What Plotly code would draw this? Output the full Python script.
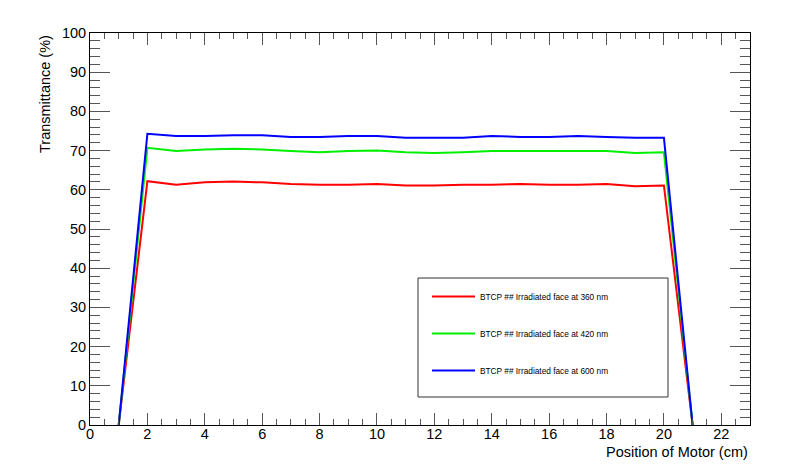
import plotly.graph_objects as go

positions = list(range(1, 22))
red_360 = [0, 62.2, 61.3, 61.9, 62.1, 61.9, 61.5, 61.3, 61.3, 61.5, 61.1,
           61.1, 61.3, 61.3, 61.5, 61.3, 61.3, 61.5, 60.9, 61.1, 0]
green_420 = [0, 70.7, 69.9, 70.3, 70.5, 70.3, 69.9, 69.6, 69.9, 70.0, 69.6,
             69.4, 69.6, 69.9, 69.9, 69.9, 69.9, 69.9, 69.4, 69.6, 0]
blue_600 = [0, 74.3, 73.7, 73.7, 73.9, 73.9, 73.5, 73.5, 73.7, 73.7, 73.3,
            73.3, 73.3, 73.7, 73.5, 73.5, 73.7, 73.5, 73.3, 73.3, 0]
series_names = ["BTCP ## Irradiated face at 360 nm",
                "BTCP ## Irradiated face at 420 nm",
                "BTCP ## Irradiated face at 600 nm"]
series_colors = ["#ff0000", "#00f000", "#0000ff"]

FONT = "Liberation Sans, Arial, Helvetica, sans-serif"

fig = go.Figure()
for name, vals, col in zip(series_names, [red_360, green_420, blue_600], series_colors):
    fig.add_trace(go.Scatter(x=positions, y=vals, mode="lines", name=name,
                             legendgroup=name,
                             line=dict(color=col, width=2)))

# page body margin offset (8px) compensated
OFF = 8
W, H = 800 - OFF, 475 - OFF
L, R, T, B = 90 - OFF, 50, 33 - OFF, 50
pw, ph = W - L - R, H - T - B

# helpers in screen pixels (reference coordinates)
def px_x(p):
    return (p - (L + OFF)) / pw

def px_y(p):
    return ((H + OFF - B) - p) / ph

axis_common = dict(showgrid=False, zeroline=False, showline=True, linecolor="black",
                   linewidth=1, mirror="ticks", ticks="inside", tickcolor="#555",
                   tickwidth=1, tickfont=dict(family=FONT, size=14.5, color="black"))

fig.update_xaxes(range=[0, 23], dtick=2, tick0=0, ticklen=12, ticklabelstandoff=-4,
                 minor=dict(dtick=0.5, ticks="inside", ticklen=6, tickcolor="#555"),
                 **axis_common)
fig.update_yaxes(range=[0, 100], dtick=10, tick0=0, ticklen=20,
                 minor=dict(dtick=2, ticks="inside", ticklen=10, tickcolor="#555"),
                 **axis_common)

# legend box
fig.add_shape(type="rect", xref="paper", yref="paper",
              x0=px_x(418), x1=px_x(668), y0=px_y(397), y1=px_y(278),
              line=dict(color="#333", width=1), fillcolor="white", layer="below")

fig.update_layout(
    width=W, height=H,
    margin=dict(l=L, r=R, t=T, b=B, autoexpand=False),
    paper_bgcolor="white", plot_bgcolor="white",
    showlegend=True,
    legend=dict(x=px_x(427), y=px_y(282), xanchor="left", yanchor="top",
                bgcolor="rgba(0,0,0,0)", borderwidth=0,
                font=dict(family=FONT, size=8.3, color="black"),
                itemwidth=43, tracegroupgap=18),
    annotations=[
        dict(text="Transmittance (%)", textangle=-90, xref="paper", yref="paper",
             x=px_x(45), y=1.0, xanchor="center", yanchor="top", showarrow=False,
             font=dict(family=FONT, size=14.5, color="black")),
        dict(text="Position of Motor (cm)", xref="paper", yref="paper",
             x=1.0, y=px_y(452), xanchor="right", yanchor="middle", showarrow=False,
             font=dict(family=FONT, size=14.5, color="black")),
    ],
)

fig.write_html("out.html")
